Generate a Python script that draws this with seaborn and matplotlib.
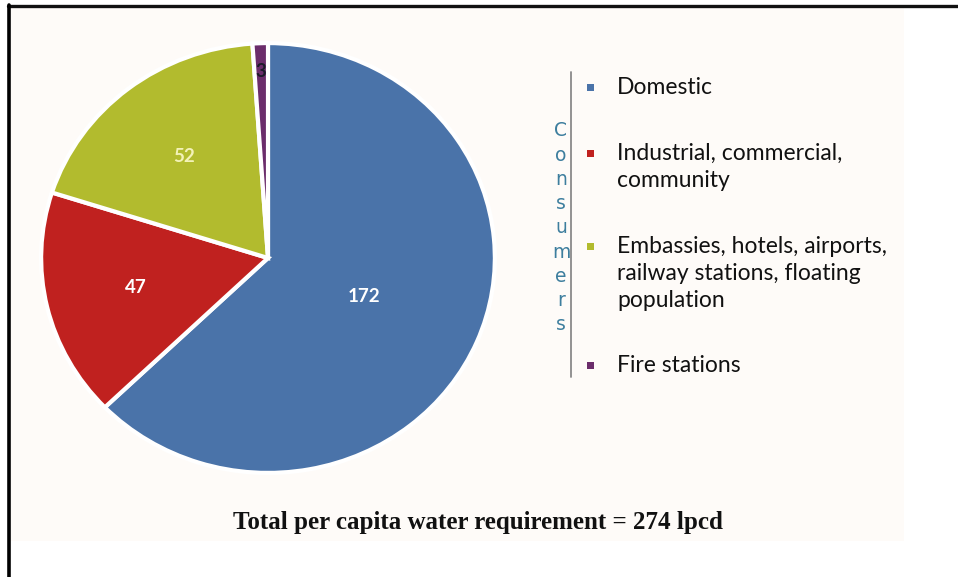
import matplotlib
matplotlib.use("Agg")
import matplotlib.pyplot as plt
from matplotlib.patches import Rectangle
from matplotlib.lines import Line2D
import numpy as np
import seaborn as sns

# Per capita water requirement by consumer group (lpcd)
categories = [
    "Domestic",
    "Industrial, commercial,\ncommunity",
    "Embassies, hotels, airports,\nrailway stations, floating\npopulation",
    "Fire stations",
]
values = [172, 47, 52, 3]
colors = ["#4A73A9", "#C0211F", "#B2BB2E", "#6B2D6B"]
label_colors = ["#FFFFFF", "#FFFFFF", "#F3F2B8", "#1C1A2A"]
label_radius = [0.46, 0.60, 0.60, 0.87]
legend_title = "Consumers"
footer = "Total per capita water requirement = 274 lpcd"

sns.set_theme(style="white")
plt.rcParams["font.family"] = ["Lato", "DejaVu Sans"]

W, H = 958, 577
fig = plt.figure(figsize=(W / 100, H / 100), dpi=100)
fig.patch.set_facecolor("white")

def px(x0, y0, x1, y1):
    """Convert a pixel box (top-left origin) to figure fractions."""
    return [x0 / W, 1 - y1 / H, (x1 - x0) / W, (y1 - y0) / H]

# Off-white panel and the frame lines
bg = fig.add_axes([0, 0, 1, 1])
bg.set_xlim(0, W)
bg.set_ylim(H, 0)
bg.axis("off")
bg.add_patch(Rectangle((10, 8), 894, 533, facecolor="#FEFBF8", edgecolor="none"))
bg.add_line(Line2D([8, W], [6, 6], color="#111111", lw=2.4))
bg.add_line(Line2D([9, 9], [5, H], color="#000000", lw=2.6))

# Pie
ax = fig.add_axes(px(40, 42, 496, 474))
ax.set_facecolor("none")
wedges, _ = ax.pie(
    values,
    colors=colors,
    startangle=90,
    counterclock=False,
    wedgeprops=dict(edgecolor="white", linewidth=3.0),
)
ax.set_aspect("auto")
ax.set_xlim(-1.005, 1.005)
ax.set_ylim(-1.005, 1.005)

for w, v, c, r in zip(wedges, values, label_colors, label_radius):
    ang = np.deg2rad((w.theta1 + w.theta2) / 2)
    ax.text(r * np.cos(ang), r * np.sin(ang), str(v), color=c,
            ha="center", va="center", fontsize=13.5, fontweight="bold")

# Legend with vertical title and separator line
bg.add_line(Line2D([571, 571], [72, 377], color="#8A8A8A", lw=1.3))
for i, ch in enumerate(legend_title):
    bg.text(561, 131 + i * 24.2, ch, color="#3D7E9E", ha="center", va="center",
            fontsize=13.5, family=["DejaVu Sans"])

marker_y = [87, 153, 246, 365]
for y, lab, col in zip(marker_y, categories, colors):
    bg.add_patch(Rectangle((587, y - 3.5), 7, 7, facecolor=col, edgecolor="none"))
    bg.text(617, y - 10, lab, color="#111111", ha="left", va="top",
            fontsize=16.5, linespacing=1.36)

bg.text(478, 522, footer, ha="center", va="center", fontsize=18,
        fontweight="bold", family=["Liberation Serif"], color="#111111")

fig.savefig("out.png", dpi=100, facecolor="white")
